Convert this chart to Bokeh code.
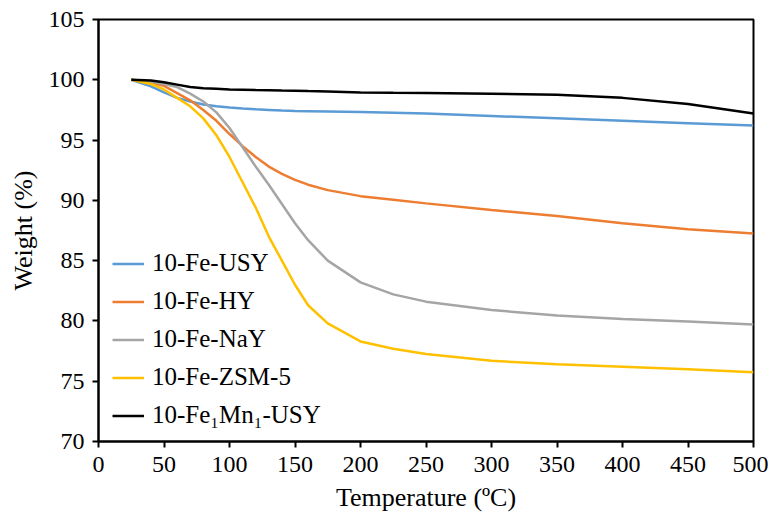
from bokeh.plotting import figure
from bokeh.embed import file_html
from bokeh.resources import INLINE
from bokeh.models import Legend, LegendItem, FixedTicker, Range1d

temperature = [25, 40, 50, 60, 70, 80, 90, 100, 110, 120, 130, 140, 150, 160, 175,
               200, 225, 250, 300, 350, 400, 450, 500]
fe_usy = [100, 99.45, 98.95, 98.5, 98.2, 97.95, 97.8, 97.7, 97.62, 97.55, 97.5, 97.45,
          97.42, 97.4, 97.37, 97.32, 97.27, 97.2, 97.0, 96.8, 96.6, 96.4, 96.2]
fe_hy = [100, 99.75, 99.5, 98.9, 98.3, 97.5, 96.6, 95.5, 94.5, 93.6, 92.8, 92.2,
         91.7, 91.3, 90.85, 90.35, 90.05, 89.75, 89.2, 88.7, 88.1, 87.6, 87.25]
fe_nay = [100, 99.85, 99.65, 99.4, 98.85, 98.2, 97.3, 96.0, 94.4, 92.8, 91.3, 89.7,
          88.1, 86.7, 85.0, 83.2, 82.2, 81.6, 80.9, 80.45, 80.15, 79.95, 79.7]
fe_zsm5 = [100, 99.65, 99.2, 98.5, 97.8, 96.8, 95.4, 93.6, 91.5, 89.4, 87.0, 85.0,
           83.0, 81.3, 79.8, 78.3, 77.7, 77.25, 76.7, 76.4, 76.2, 76.0, 75.75]
fe_mn_usy = [100, 99.95, 99.8, 99.6, 99.4, 99.3, 99.25, 99.2, 99.18, 99.15, 99.13, 99.11,
             99.1, 99.07, 99.03, 98.95, 98.92, 98.9, 98.85, 98.75, 98.5, 98.0, 97.2]

series = [
    ("10-Fe-USY", fe_usy, "#5B9BD5"),
    ("10-Fe-HY", fe_hy, "#ED7D31"),
    ("10-Fe-NaY", fe_nay, "#A5A5A5"),
    ("10-Fe-ZSM-5", fe_zsm5, "#FFC000"),
    ("10-Fe\u2081Mn\u2081-USY", fe_mn_usy, "#000000"),
]

x_ticks = [0, 50, 100, 150, 200, 250, 300, 350, 400, 450, 500]
y_ticks = [70, 75, 80, 85, 90, 95, 100, 105]

FONT = "Liberation Serif"

p = figure(width=768, height=515, output_backend="svg", toolbar_location=None,
           x_range=Range1d(0, 500), y_range=Range1d(70, 105),
           min_border_left=98, min_border_right=15, min_border_top=19, min_border_bottom=74)

items = []
for name, ys, color in series:
    r = p.line(temperature, ys, line_color=color, line_width=2.5)
    items.append(LegendItem(label=name, renderers=[r]))

p.xgrid.visible = False
p.ygrid.visible = False
p.outline_line_color = "black"
p.outline_line_width = 2
p.background_fill_color = "white"
p.border_fill_color = "white"

for ax in (p.xaxis[0], p.yaxis[0]):
    ax.axis_line_color = "black"
    ax.axis_line_width = 2
    ax.major_tick_line_width = 2
    ax.major_tick_in = 0
    ax.major_tick_out = 6
    ax.minor_tick_line_color = None
    ax.major_label_text_font = FONT
    ax.major_label_text_font_size = "24px"
    ax.major_label_text_color = "black"
    ax.axis_label_text_font = FONT
    ax.axis_label_text_font_size = "26px"
    ax.axis_label_text_font_style = "normal"
    ax.axis_label_text_color = "black"

p.xaxis[0].ticker = FixedTicker(ticks=x_ticks)
p.yaxis[0].ticker = FixedTicker(ticks=y_ticks)
p.xaxis[0].axis_label = "Temperature (\u00baC)"
p.yaxis[0].axis_label = "Weight (%)"
p.xaxis[0].major_label_standoff = 9
p.yaxis[0].major_label_standoff = 8
p.xaxis[0].axis_label_standoff = 8
p.yaxis[0].axis_label_standoff = 8

legend = Legend(items=items, location=(14, 12))
legend.label_text_font = FONT
legend.label_text_font_size = "25px"
legend.label_text_color = "black"
legend.border_line_color = None
legend.background_fill_alpha = 0
legend.glyph_width = 32
legend.glyph_height = 25
legend.label_height = 25
legend.spacing = 10
legend.label_standoff = 8
legend.padding = 4
p.add_layout(legend, "center")

open("out.html", "w").write(file_html(p, INLINE))
